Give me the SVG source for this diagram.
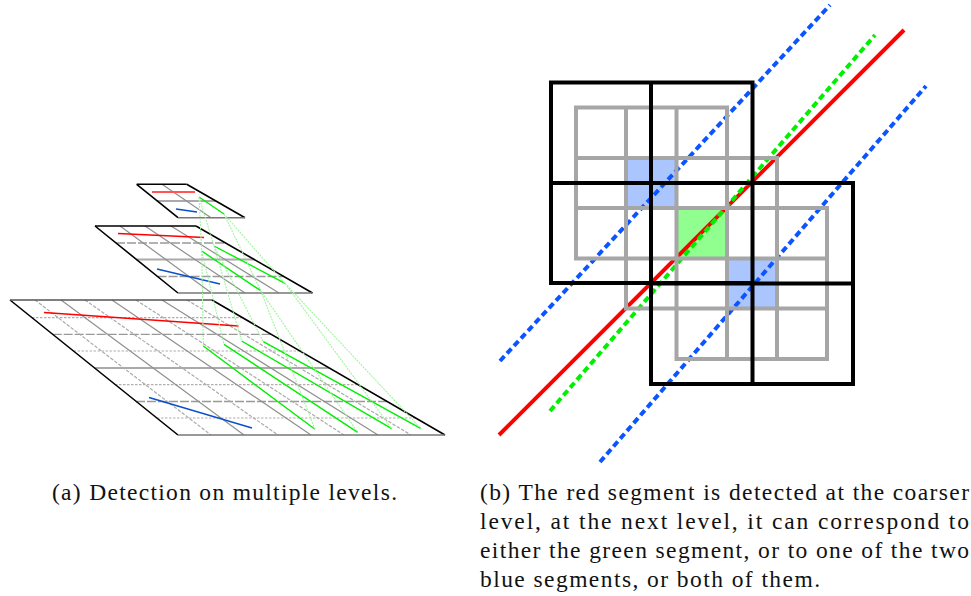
<svg xmlns="http://www.w3.org/2000/svg" width="971" height="596" viewBox="0 0 971 596">
<style>
text{font-family:"Liberation Serif","Times New Roman",serif;font-size:23.5px;fill:#111}
.edge{stroke:#000;stroke-width:1.6;fill:none}
.top{stroke:#555;stroke-width:1.6;fill:none}
.bot{stroke:#777;stroke-width:1.6;fill:none}
.g1{stroke:#aaa;stroke-width:1.8;fill:none}
.g2{stroke:#999;stroke-width:1.3;fill:none;stroke-dasharray:9 2}
.g3{stroke:#b5adad;stroke-width:1.2;fill:none;stroke-dasharray:2.5 1.5}
.v{stroke:#909090;stroke-width:1.2;fill:none}
.vd{stroke:#aaa;stroke-width:1.2;fill:none;stroke-dasharray:3.5 1.5}
.r{stroke:#f00;stroke-width:1.4;fill:none}
.rl{stroke:#ff5555;stroke-width:2;fill:none}
.b{stroke:#0a50c8;stroke-width:1.4;fill:none}
.gr{stroke:#00ee00;stroke-width:1.4;fill:none}
.lk{stroke:#a0f4a0;stroke-width:1.1;fill:none;stroke-dasharray:2 1}
.blk{stroke:#000;stroke-width:4;fill:none}
.gry{stroke:#a6a6a6;stroke-width:4;fill:none}
.R{stroke:#f00;stroke-width:4;fill:none}
.Gd{stroke:#00f000;stroke-width:4;fill:none;stroke-dasharray:6.500 3.800}
.Bd{stroke:#0a55ff;stroke-width:4;fill:none;stroke-dasharray:6.500 3.800}
</style>
<g id="level-large">
<path class="g3" d="M32 317.700H242M73.500 351H300M115 384.700H358M157 418H416"/>
<path class="g2" d="M52.700 334.300H271M136 401.500H387"/>
<path class="g1" d="M94.600 368H329"/>
<path class="vd" d="M35 300 211 435M85 300 278 435M136 300 344 435M187 300 411 435"/>
<path class="v" d="M61 300 244 435M112 300 311 435M162 300 378 435"/>
<path class="edge" d="M10 300 178 435M212 300 445 435"/>
<path class="top" d="M10 300H212"/>
<path class="bot" d="M178 435H445"/>
<path class="r" d="M44 312.500 238.500 326"/>
<path class="b" d="M149 397.500 252 428"/>
<path class="gr" d="M203.300 346 315 429.300M224 344.300 357.700 432.300M241.700 341 391.700 428.700M263.300 341.700 421 428.700"/>
</g>
<g id="level-mid">
<path class="g2" d="M116 243H225.600M157.600 276.500H284"/>
<path class="g1" d="M136.500 259.500H254"/>
<path class="v" d="M120 226 211.600 293M145 226 245 293M171 226 279 293"/>
<path class="edge" d="M95 226 178 293M196 226 312.500 293"/>
<path class="edge" d="M95 226H196"/>
<path class="bot" d="M178 293H312.500"/>
<path class="r" d="M118 233.500 204 237.500"/>
<path class="b" d="M157 269 220 284"/>
<path class="gr" d="M201.700 251 260.700 290.700M214 246 285 283.300"/>
</g>
<g id="level-small">
<path class="g1" d="M157 201H216"/>
<path class="v" d="M162 184.300 211 217.700"/>
<path class="edge" d="M136.700 184.300 178 217.700M186.700 184.300 245 217.700"/>
<path class="edge" d="M136.700 184.300H186.700"/>
<path class="bot" d="M178 217.700H245"/>
<path class="rl" d="M152 192H195"/>
<path class="b" d="M176 209 197 212"/>
<path class="gr" d="M199 197 224 214"/>
</g>
<g id="connectors">
<path class="lk" d="M199 197 201.700 251M199 197 214 246M224 214 260.700 290.700M224 214 285 283.300"/>
<path class="lk" d="M201.700 251 203.300 346M201.700 251 224 344.300M214 246 241.700 341M214 246 263.300 341.700"/>
<path class="lk" d="M260.700 290.700 315 429.300M260.700 290.700 357.700 432.300M285 283.300 391.700 428.700M285 283.300 421 428.700"/>
</g>
<g id="cells">
<rect x="626" y="158" width="50.500" height="50" fill="#abc5ff"/>
<rect x="727" y="258.500" width="50" height="50" fill="#abc5ff"/>
<rect x="676.500" y="208" width="50.500" height="50.500" fill="#90ff90"/>
</g>
<g id="segments">
<path class="R" d="M499 435 904 30"/>
<path class="Gd" d="M550 411 875 35"/>
<path class="Bd" d="M500 361 830 5"/>
<path class="Bd" d="M600 462 926 86"/>
</g>
<g id="grid-fine">
<path class="gry" d="M574 107.500H727M574 158H779M574 208H829M574 258.500H829M624 308.500H829M674.500 359H829M576 105.500V260.500M626 105.500V310.500M676.500 105.500V361M727 105.500V361M777 156V361M827 206V361"/>
</g>
<g id="grid-coarse">
<path class="blk" d="M551 82.500H752.500V283H551ZM651 82.500V283M551 183H752.500M651 183H853V384H651ZM752.500 183V384M651 283.500H853"/>
</g>
<g id="captions">
<text x="52" y="500" textLength="345" lengthAdjust="spacing">(a) Detection on multiple levels.</text>
<text x="480" y="500" textLength="489" lengthAdjust="spacing">(b) The red segment is detected at the coarser</text>
<text x="480" y="529" textLength="489" lengthAdjust="spacing">level, at the next level, it can correspond to</text>
<text x="480" y="558" textLength="489" lengthAdjust="spacing">either the green segment, or to one of the two</text>
<text x="480" y="587" textLength="340" lengthAdjust="spacing">blue segments, or both of them.</text>
</g>
</svg>
